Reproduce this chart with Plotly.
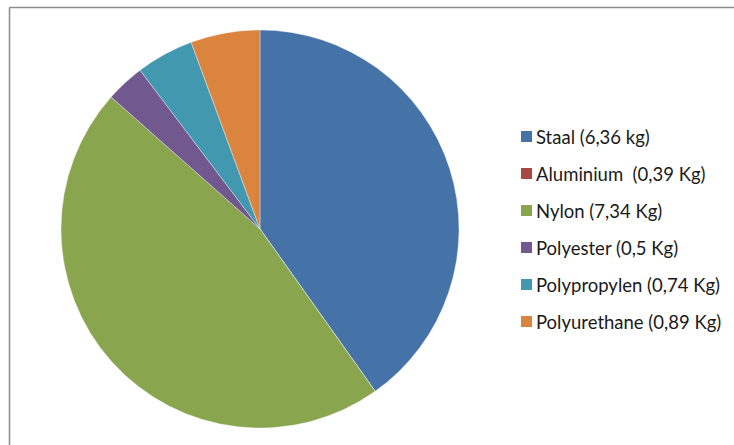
import plotly.graph_objects as go

labels = ["Staal (6,36 kg)", "Aluminium  (0,39 Kg)", "Nylon (7,34 Kg)",
          "Polyester (0,5 Kg)", "Polypropylen (0,74 Kg)", "Polyurethane (0,89 Kg)"]
# slice sizes as drawn (the aluminium slice is not visible in the picture)
values = [6.36, 0.0, 7.34, 0.5, 0.74, 0.89]
colors = ["#4572A7", "#AA4643", "#89A54E", "#71588F", "#4198AF", "#DB843D"]

W, H = 734, 445
cx, cy, r = 260, 229, 199

fig = go.Figure(go.Pie(
    labels=labels, values=values, sort=False, direction="clockwise", rotation=0,
    marker=dict(colors=colors, line=dict(color="rgba(255,255,255,0.6)", width=0.6)),
    textinfo="none", hoverinfo="label", showlegend=False,
    domain=dict(x=[(cx - r) / W, (cx + r) / W], y=[1 - (cy + r) / H, 1 - (cy - r) / H]),
))

shapes = [
    dict(type="line", xref="paper", yref="paper", x0=9.5 / W, x1=1, y0=1 - 7.5 / H, y1=1 - 7.5 / H,
         line=dict(color="#8c8c8c", width=1.5)),
    dict(type="line", xref="paper", yref="paper", x0=9.5 / W, x1=9.5 / W, y0=0, y1=1 - 7.5 / H,
         line=dict(color="#8c8c8c", width=1.5)),
]
annotations = []
row0, step = 136.5, 37.0
for i, (lab, col) in enumerate(zip(labels, colors)):
    yc = row0 + i * step
    shapes.append(dict(type="rect", xref="paper", yref="paper",
                       x0=521 / W, x1=532 / W, y0=1 - (yc + 5.5) / H, y1=1 - (yc - 5.5) / H,
                       fillcolor=col, line=dict(width=0)))
    annotations.append(dict(xref="paper", yref="paper", x=534 / W, y=1 - yc / H,
                            xanchor="left", yanchor="middle", showarrow=False, text=lab,
                            font=dict(family="Lato", size=18.5, color="#1a1a1a")))

fig.update_layout(
    width=W, height=H, margin=dict(l=0, r=0, t=0, b=0),
    paper_bgcolor="white", plot_bgcolor="white",
    shapes=shapes, annotations=annotations,
)
fig.write_html("out.html", config={"displayModeBar": False},
               post_script="document.body.style.margin='0';document.body.style.overflow='hidden';")
